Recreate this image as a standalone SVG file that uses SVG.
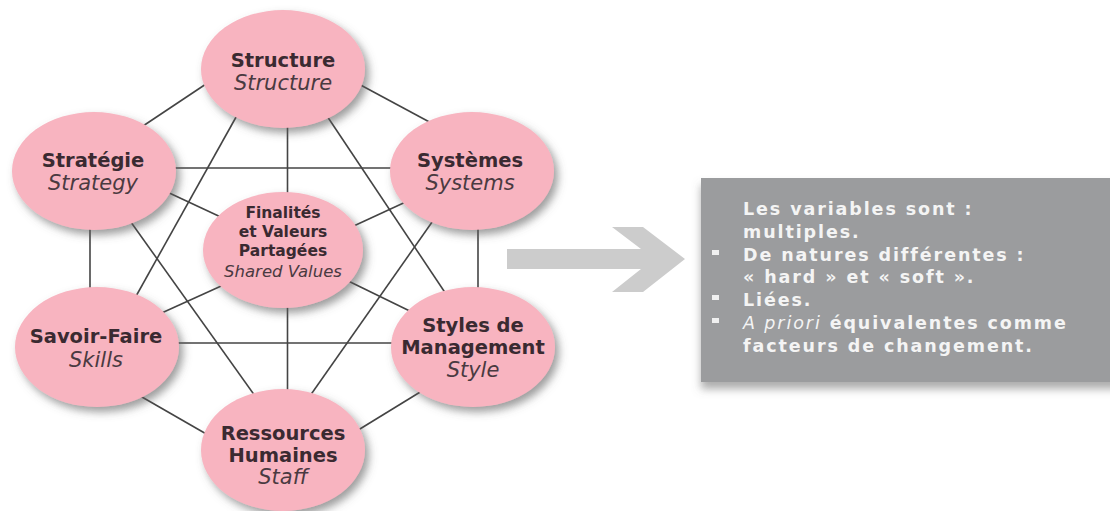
<svg xmlns="http://www.w3.org/2000/svg" width="1110" height="511" viewBox="0 0 1110 511">
<defs>
<filter id="sh" x="-30%" y="-30%" width="160%" height="160%">
<feDropShadow dx="4" dy="5" stdDeviation="4" flood-color="#5a5a5a" flood-opacity="0.6"/>
</filter>
<filter id="bsh" x="-10%" y="-20%" width="120%" height="150%">
<feDropShadow dx="0" dy="7" stdDeviation="4" flood-color="#6a6a6a" flood-opacity="0.55"/>
</filter>
<style>
.node ellipse{fill:#f8b4c0;filter:url(#sh)}
.b{font-family:"DejaVu Sans",sans-serif;font-weight:bold;font-size:19.5px;fill:#3a2a31;text-anchor:middle}
.i{font-family:"DejaVu Sans",sans-serif;font-style:italic;font-size:21px;fill:#4a3a41;text-anchor:middle}
.bs{font-size:15.5px}
.is{font-size:16.5px}
.conn line{stroke:#444444;stroke-width:1.6}
.bt{font-family:"DejaVu Sans",sans-serif;font-weight:bold;font-size:17.5px;fill:#f4f4f4;letter-spacing:1.9px}
.bul{fill:#f0f0f0}
</style>
</defs>
<rect width="1110" height="511" fill="#ffffff"/>
<g id="connectors" class="conn">
<line x1="212" y1="80" x2="140" y2="128"/>
<line x1="355" y1="82" x2="435" y2="125"/>
<line x1="287.5" y1="120" x2="287.5" y2="200"/>
<line x1="240" y1="110" x2="135" y2="298"/>
<line x1="325" y1="113" x2="450" y2="300"/>
<line x1="160" y1="168" x2="400" y2="168"/>
<line x1="165" y1="191" x2="225" y2="219"/>
<line x1="90" y1="215" x2="90" y2="300"/>
<line x1="128" y1="218" x2="260" y2="403"/>
<line x1="410" y1="200" x2="345" y2="230"/>
<line x1="478" y1="215" x2="478" y2="300"/>
<line x1="437" y1="215" x2="305" y2="403"/>
<line x1="230" y1="282" x2="155" y2="316"/>
<line x1="338" y1="276" x2="420" y2="316"/>
<line x1="287.5" y1="295" x2="287.5" y2="400"/>
<line x1="165" y1="343" x2="405" y2="343"/>
<line x1="135" y1="393" x2="215" y2="439"/>
<line x1="430" y1="386" x2="355" y2="432"/>
</g>
<g id="structure" class="node">
<ellipse cx="283" cy="69" rx="82" ry="59"/>
<text class="b" x="283" y="67">Structure</text>
<text class="i" x="283" y="90">Structure</text>
</g>
<g id="strategie" class="node">
<ellipse cx="94" cy="171" rx="82" ry="59"/>
<text class="b" x="93" y="167">Stratégie</text>
<text class="i" x="93" y="190">Strategy</text>
</g>
<g id="systemes" class="node">
<ellipse cx="472" cy="171" rx="82" ry="59"/>
<text class="b" x="470" y="167">Systèmes</text>
<text class="i" x="470" y="190">Systems</text>
</g>
<g id="valeurs" class="node">
<ellipse cx="283" cy="250" rx="80" ry="58"/>
<text class="b bs" x="283" y="218">Finalités</text>
<text class="b bs" x="283" y="237">et Valeurs</text>
<text class="b bs" x="283" y="256">Partagées</text>
<text class="i is" x="283" y="277">Shared Values</text>
</g>
<g id="savoir" class="node">
<ellipse cx="97" cy="347" rx="82" ry="60"/>
<text class="b" x="96" y="343">Savoir-Faire</text>
<text class="i" x="96" y="367">Skills</text>
</g>
<g id="styles" class="node">
<ellipse cx="473" cy="347" rx="82" ry="60"/>
<text class="b" x="473" y="332">Styles de</text>
<text class="b" x="473" y="354">Management</text>
<text class="i" x="473" y="377">Style</text>
</g>
<g id="ressources" class="node">
<ellipse cx="283" cy="450" rx="82" ry="61"/>
<text class="b" x="283" y="440">Ressources</text>
<text class="b" x="283" y="462">Humaines</text>
<text class="i" x="283" y="484">Staff</text>
</g>
<g id="arrow">
<polygon points="507,249 641,249 612,227 643,227 685,259 643,292 612,292 641,269 507,269" fill="#cccccc"/>
</g>
<g id="summary">
<rect x="701" y="178" width="420" height="204" fill="#9b9c9e" filter="url(#bsh)"/>
<text class="bt" x="743" y="215">Les variables sont :</text>
<text class="bt" x="743" y="238">multiples.</text>
<rect class="bul" x="712" y="250" width="7" height="5"/>
<text class="bt" x="743" y="261">De natures différentes :</text>
<text class="bt" x="743" y="283">« hard » et « soft ».</text>
<rect class="bul" x="712" y="295" width="7" height="5"/>
<text class="bt" x="743" y="306">Liées.</text>
<rect class="bul" x="712" y="318" width="7" height="5"/>
<text class="bt" x="743" y="329"><tspan font-style="italic" font-weight="normal">A priori</tspan> équivalentes comme</text>
<text class="bt" x="743" y="352">facteurs de changement.</text>
</g>
</svg>
